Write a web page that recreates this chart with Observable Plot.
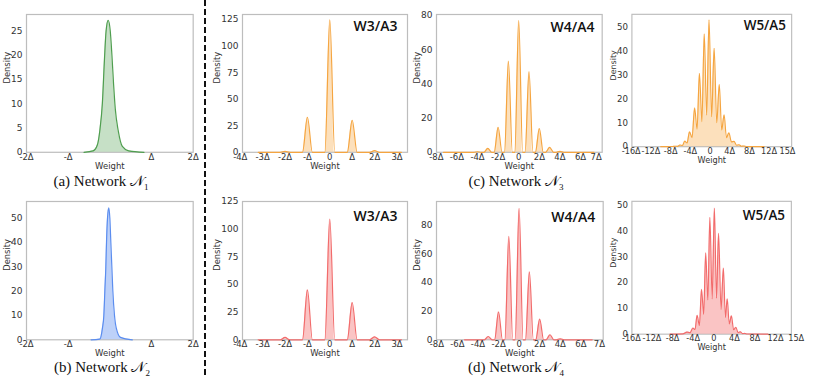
<!DOCTYPE html>
<html><head><meta charset="utf-8">
<script src="https://cdn.jsdelivr.net/npm/d3@7"></script>
<script src="https://cdn.jsdelivr.net/npm/@observablehq/plot@0.6"></script>
<style>
body{margin:0;background:#fff;width:820px;height:378px;overflow:hidden;position:relative;}
.panel{position:absolute;}
.cap{position:absolute;font-family:"Liberation Serif","Times New Roman",serif;font-size:15px;color:#111;transform:translate(-50%,-50%);white-space:nowrap;}
.cap .n{font-family:"DejaVu Serif","DejaVu Sans","Noto Sans",serif;font-size:15px;}
.cap sub{font-size:9px;}
#sep{position:absolute;left:0;top:0;}
</style></head><body>
<script>
// ---------- data (x in units of Δ, y = density) ----------
// (a) Network N1
const n1X = [-0.62, -0.4, -0.3, -0.24, -0.18, -0.13, -0.09, -0.04, 0.01, 0.05, 0.09, 0.13, 0.2, 0.3, 0.45, 0.82];
const n1Y = [0, 0.3, 1.5, 4.5, 10, 19, 25, 27.2, 25, 20, 14, 9, 4.5, 1.2, 0.3, 0];
// (b) Network N2
const n2X = [-0.45, -0.24, -0.176, -0.144, -0.12, -0.096, -0.08, -0.056, -0.024, 0, 0.024, 0.048, 0.072, 0.112, 0.152, 0.256, 0.54];
const n2Y = [0, 0.3, 5, 10, 20, 30, 40, 50, 54.2, 50, 40, 30, 20, 10, 5, 1, 0];
// (c) Network N3, W3/A3
const n3w3X = [-3.2, -2.22, -2, -1.78, -1.22, -1, -0.78, -0.22, 0, 0.22, 0.78, 1, 1.22, 1.78, 2, 2.22, 3.2];
const n3w3Y = [0, 0, 0.8, 0, 0, 33, 0, 0, 124.7, 0, 0, 30, 0, 0, 1.5, 0, 0];
// (c) Network N3, W4/A4
const n3w4X = [-7.3, -4.38, -4, -3.62, -3.38, -3, -2.62, -2.38, -2, -1.62, -1.38, -1, -0.62, -0.38, 0, 0.38, 0.62, 1, 1.38, 1.62, 2, 2.38, 2.62, 3, 3.38, 3.62, 4, 4.38, 7.3];
const n3w4Y = [0, 0, 0.3, 0, 0, 2.3, 0, 0, 14.6, 0, 0, 53.3, 0, 0, 77.1, 0, 0, 47.2, 0, 0, 13.9, 0, 0, 2.9, 0, 0, 0.5, 0, 0];
// (c) Network N3, W5/A5
const n3w5X = [-10, -7.6, -7.1, -6.6, -6.1, -5.6, -5.13, -4.65, -4.16, -3.64, -3.12, -2.63, -2.14, -1.65, -1.16, -0.68, -0.19, 0.33, 0.85, 1.37, 1.89, 2.38, 2.87, 3.35, 3.84, 4.36, 4.88, 5.4, 5.9, 6.4, 6.9, 7.4, 11];
const n3w5Y = [0, 0.1, 0.2, 0.15, 0.7, 0.5, 2.3, 1.6, 6.2, 3.8, 16.2, 7.3, 30.7, 10.5, 47.2, 13.2, 53, 12.5, 41.1, 10, 26, 7, 13.3, 3.8, 5.8, 2, 2.2, 0.6, 0.8, 0.2, 0.3, 0.05, 0];
// (d) Network N4, W3/A3
const n4w3X = [-3.2, -2.22, -2, -1.78, -1.22, -1, -0.78, -0.22, 0, 0.22, 0.78, 1, 1.22, 1.78, 2, 2.22, 3.2];
const n4w3Y = [0, 0, 2.1, 0, 0, 45.2, 0, 0, 109, 0, 0, 33.6, 0, 0, 2.7, 0, 0];
// (d) Network N4, W4/A4
const n4w4X = [-5.3, -3.38, -3, -2.62, -2.38, -2, -1.62, -1.38, -1, -0.62, -0.38, 0, 0.38, 0.62, 1, 1.38, 1.62, 2, 2.38, 2.62, 3, 3.38, 3.62, 4, 4.38, 7.1];
const n4w4Y = [0, 0, 2.3, 0, 0, 19.5, 0, 0, 72, 0, 0, 91.6, 0, 0, 47.3, 0, 0, 14.4, 0, 0, 3.5, 0, 0, 0.7, 0, 0];
// (d) Network N4, W5/A5
const n4w5X = [-8.5, -6, -5.2, -4.6, -4.05, -3.65, -3.24, -2.8, -2.38, -1.97, -1.57, -1.16, -0.76, -0.32, 0.12, 0.52, 0.93, 1.4, 1.87, 2.24, 2.61, 3.0, 3.42, 3.85, 4.29, 4.7, 5.16, 5.6, 6.0, 6.5, 10.5];
const n4w5Y = [0, 0.1, 0.8, 0.6, 2.4, 1.8, 7.3, 3.4, 17.4, 7.7, 31.6, 13.3, 45.4, 13.7, 49, 14, 39.2, 9.6, 25.7, 6.5, 13.7, 4, 7.1, 1.7, 2.7, 0.6, 0.9, 0.2, 0.3, 0.05, 0];

// tick values and labels
const ticks2 = [-2, -1, 1, 2];
const ticks2Labels = ["-2Δ", "-Δ", "Δ", "2Δ"];
const ticks4 = [-4, -3, -2, -1, 0, 1, 2, 3];
const ticks4Labels = ["-4Δ", "-3Δ", "-2Δ", "-Δ", "0", "Δ", "2Δ", "3Δ"];
const ticks8Top = [-8, -6, -4, -2, 0, 2, 4, 6, 7.52];
const ticks8Bottom = [-8, -6, -4, -2, 0, 2, 4, 6, 7.8];
const ticks8Labels = ["-8Δ", "-6Δ", "-4Δ", "-2Δ", "0", "2Δ", "4Δ", "6Δ", "7Δ"];
const ticks16Top = [-16, -12, -8, -4, 0, 4, 8, 12, 15.74];
const ticks16Bottom = [-16, -12, -8, -4, 0, 4, 8, 12, 16.0];
const ticks16Labels = ["-16Δ", "-12Δ", "-8Δ", "-4Δ", "0", "4Δ", "8Δ", "12Δ", "15Δ"];
const yTicks25 = [0, 5, 10, 15, 20, 25];
const yTicks50 = [0, 10, 20, 30, 40, 50];
const yTicks125 = [0, 25, 50, 75, 100, 125];
const yTicks80 = [0, 20, 40, 60, 80];

const titles = ["W3/A3", "W4/A4", "W5/A5"];

// ---------- layout / style ----------
const GREEN = "#4f9e4f", BLUE = "#5b8def", ORANGE = "#f5a540", RED = "#f26b6b";
const TOP = [13.7, 151.5], BOT = [200.7, 339];

const panels = [
  {xs:n1X, ys:n1Y, color:GREEN, op:0.32, fx:[26,192.7], fy:TOP, xd:[-2,2], yd:[0,28.4], ticks:ticks2, tl:ticks2Labels, yt:yTicks25, dd:-18.7},
  {xs:n2X, ys:n2Y, color:BLUE, op:0.4, fx:[26,192.7], fy:BOT, xd:[-2,2], yd:[0,56.8], ticks:ticks2, tl:ticks2Labels, yt:yTicks50, dd:-18.7},
  {xs:n3w3X, ys:n3w3Y, color:ORANGE, op:0.35, fx:[241.7,406.7], fy:TOP, xd:[-3.9,3.47], yd:[0,129.7], ticks:ticks4, tl:ticks4Labels, yt:yTicks125, dd:-25, title:titles[0], tdx:-10, tdy:7},
  {xs:n3w4X, ys:n3w4Y, color:ORANGE, op:0.35, fx:[436,601.7], fy:TOP, xd:[-7.98,8.1], yd:[0,80.6], ticks:ticks8Top, tl:ticks8Labels, yt:yTicks80, dd:-19.3, title:titles[1], tdx:-7.7, tdy:7.7},
  {xs:n3w5X, ys:n3w5Y, color:ORANGE, op:0.35, fx:[633,799.3], fy:TOP, xd:[-15.86,16.59], yd:[0,55.3], ticks:ticks16Top, tl:ticks16Labels, yt:yTicks50, dd:-19, title:titles[2], tdx:-6, tdy:6.7},
  {xs:n4w3X, ys:n4w3Y, color:RED, op:0.4, fx:[241.7,406.7], fy:BOT, xd:[-3.9,3.47], yd:[0,125], ticks:ticks4, tl:ticks4Labels, yt:yTicks125, dd:-25, title:titles[0], tdx:-10, tdy:9.3},
  {xs:n4w4X, ys:n4w4Y, color:RED, op:0.4, fx:[436,602.7], fy:BOT, xd:[-8.03,8.17], yd:[0,96.3], ticks:ticks8Bottom, tl:ticks8Labels, yt:yTicks80, dd:-19.3, title:titles[1], tdx:-8, tdy:10.3},
  {xs:n4w5X, ys:n4w5Y, color:RED, op:0.4, fx:[633.3,799.3], fy:BOT, xd:[-15.9,15.06], yd:[0,51.6], ticks:ticks16Bottom, tl:ticks16Labels, yt:yTicks50, dd:-19.3, title:titles[2], tdx:-6.6, tdy:9.3}
];

const ML = 40, MR = 30, MT = 4, MB = 30;

for (const c of panels) {
  const data = c.xs.map((x, i) => ({x, y: c.ys[i]}));
  const labelMap = new Map(c.ticks.map((t, i) => [t, c.tl[i]]));
  const fw = c.fx[1] - c.fx[0], fh = c.fy[1] - c.fy[0];
  const marks = [
    Plot.frame({stroke: "#bdbdbd", strokeWidth: 1.2}),
    Plot.areaY(data, {x: "x", y: "y", curve: "monotone-x", fill: c.color, fillOpacity: c.op}),
    Plot.lineY(data, {x: "x", y: "y", curve: "monotone-x", stroke: c.color, strokeWidth: 1.2}),
    Plot.axisX({ticks: c.ticks, tickFormat: d => labelMap.get(d), tickSize: 0, tickPadding: 1.5, label: null, fontSize: 8.5}),
    Plot.axisY({ticks: c.yt, tickSize: 0, tickPadding: 4, label: null, fontSize: 9}),
    Plot.text(["Weight"], {text: d => d, frameAnchor: "bottom", dy: 13.8, fontSize: 8.5, lineAnchor: "middle", fill: "#333"}),
    Plot.text(["Density"], {text: d => d, frameAnchor: "left", dx: c.dd, rotate: -90, fontSize: 8.3, lineAnchor: "middle", fill: "#333"})
  ];
  if (c.title) marks.push(Plot.text([c.title], {text: d => d, frameAnchor: "top-right", dx: c.tdx, dy: c.tdy, lineAnchor: "top", textAnchor: "end", fontSize: 14, fontWeight: 600, fontFamily: "Open Sans", fill: "#111"}));
  const svg = Plot.plot({
    width: fw + ML + MR, height: fh + MT + MB,
    marginLeft: ML, marginRight: MR, marginTop: MT, marginBottom: MB,
    style: {fontFamily: "DejaVu Sans", fontSize: "9px", color: "#333", background: "transparent", overflow: "visible"},
    x: {domain: c.xd, label: null},
    y: {domain: c.yd, label: null},
    marks
  });
  const div = document.createElement("div");
  div.className = "panel";
  div.style.left = (c.fx[0] - ML) + "px";
  div.style.top = (c.fy[0] - MT) + "px";
  div.appendChild(svg);
  document.body.appendChild(div);
}

// separator
const ns = "http://www.w3.org/2000/svg";
const sep = document.createElementNS(ns, "svg");
sep.setAttribute("id", "sep"); sep.setAttribute("width", 820); sep.setAttribute("height", 378);
const ln = document.createElementNS(ns, "line");
ln.setAttribute("x1", 205); ln.setAttribute("x2", 205); ln.setAttribute("y1", 0); ln.setAttribute("y2", 378);
ln.setAttribute("stroke", "#111"); ln.setAttribute("stroke-width", 2); ln.setAttribute("stroke-dasharray", "6 3");
sep.appendChild(ln);
document.body.appendChild(sep);

// captions
const captions = [
  {t: "(a) Network ", s: "1", x: 101, y: 182},
  {t: "(b) Network ", s: "2", x: 102, y: 368},
  {t: "(c) Network ", s: "3", x: 516, y: 182},
  {t: "(d) Network ", s: "4", x: 516, y: 368}
];
for (const c of captions) {
  const d = document.createElement("div");
  d.className = "cap";
  d.style.left = c.x + "px"; d.style.top = c.y + "px";
  d.innerHTML = c.t + '<span class="n">𝒩</span><sub>' + c.s + '</sub>';
  document.body.appendChild(d);
}
</script>
</body></html>
